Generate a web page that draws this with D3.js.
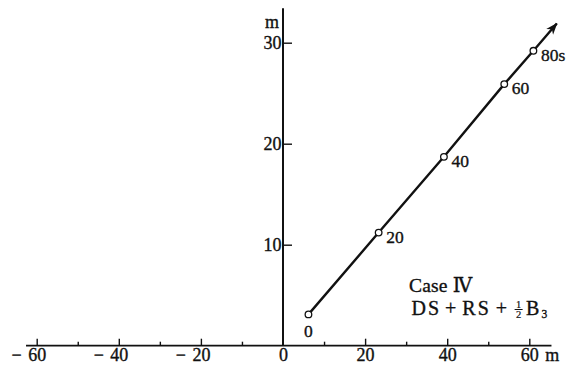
<!DOCTYPE html>
<html>
<head>
<meta charset="utf-8">
<script src="https://cdn.jsdelivr.net/npm/d3@7"></script>
<style>
  html, body { margin: 0; padding: 0; background: #fff; }
  svg { display: block; }
  svg text { font-family: "Liberation Serif", "DejaVu Serif", serif; fill: #111; stroke: #111; stroke-width: 0.35px; }
  .tick line { stroke: #111; stroke-width: 1.4; }
  .tick text { font-size: 18px; }
</style>
</head>
<body>
<svg id="chart" width="580" height="365"></svg>
<script>
// Axis ticks (metres)
const xMajorTicks = [-60, -40, -20, 0, 20, 40, 60];
const xMinorTicks = [-50, -30, -10, 10, 30, 50];
const yTicks = [10, 20, 30];

// Trajectory sampled every 20 s
const timeLabels = ["0", "20", "40", "60", "80s"];
const pathX = [6.2, 23.3, 39.2, 53.9, 61.0];
const pathY = [3.1, 11.2, 18.7, 25.9, 29.2];
// Direction of travel after the last sample
const headX = [66.7];
const headY = [31.9];

const svg = d3.select("#chart");
const ink = "#111";
const serif = "'Liberation Serif', 'DejaVu Serif', serif";

const x = d3.scaleLinear().domain([-60, 60]).range([36.7, 529.3]);
const y = d3.scaleLinear().domain([0, 30]).range([345.7, 42.7]);

// Horizontal axis line
svg.append("line")
  .attr("x1", x(-62.6)).attr("x2", x(65.4))
  .attr("y1", y(0)).attr("y2", y(0))
  .attr("stroke", ink).attr("stroke-width", 1.7);

// Vertical axis line
svg.append("line")
  .attr("x1", x(0)).attr("x2", x(0))
  .attr("y1", y(0)).attr("y2", y(33.4))
  .attr("stroke", ink).attr("stroke-width", 2);

// Minor x ticks
const gxMinor = svg.append("g")
  .attr("transform", `translate(0,${y(0)})`)
  .call(d3.axisBottom(x).tickValues(xMinorTicks).tickSize(-4).tickSizeOuter(0).tickFormat(""));
gxMinor.select(".domain").remove();

// Major x ticks with labels below the line
const gx = svg.append("g")
  .attr("transform", `translate(0,${y(0)})`)
  .call(d3.axisBottom(x).tickValues(xMajorTicks).tickSize(-7).tickSizeOuter(0)
    .tickPadding(3).tickFormat(d => String(Math.abs(d))));
gx.attr("font-family", serif);
gx.select(".domain").remove();
gx.selectAll(".tick").filter(d => d === 0).select("line").remove();
gx.selectAll(".tick").filter(d => d < 0)
  .append("text")
  .attr("x", -15.5).attr("y", 3).attr("dy", "0.71em")
  .attr("text-anchor", "end")
  .attr("font-size", 18)
  .text("\u2212");
gx.selectAll(".tick").filter(d => d === 60)
  .append("text")
  .attr("x", 15.5).attr("y", 3).attr("dy", "0.71em")
  .attr("text-anchor", "start")
  .attr("font-size", 18)
  .text("m");

// y ticks pointing right, labels on the left
const gy = svg.append("g")
  .attr("transform", `translate(${x(0)},0)`)
  .call(d3.axisLeft(y).tickValues(yTicks).tickSize(-9).tickSizeOuter(0).tickPadding(1.5));
gy.attr("font-family", serif);
gy.select(".domain").remove();

svg.append("text")
  .attr("x", x(0) - 11).attr("y", 27.5)
  .attr("text-anchor", "middle")
  .attr("font-size", 18)
  .text("m");

// Arrowhead
svg.append("defs").append("marker")
  .attr("id", "head")
  .attr("markerUnits", "userSpaceOnUse")
  .attr("viewBox", "0 -5 12 10")
  .attr("refX", 11).attr("refY", 0)
  .attr("markerWidth", 12).attr("markerHeight", 10)
  .attr("orient", "auto")
  .append("path")
  .attr("d", "M0,-4.5 L12,0 L0,4.5 L3.5,0 Z")
  .attr("fill", ink);

const pts = pathX.map((d, i) => [d, pathY[i]]);
const line = d3.line().x(d => x(d[0])).y(d => y(d[1]));

svg.append("path")
  .attr("d", line(pts.concat([[headX[0], headY[0]]])))
  .attr("fill", "none")
  .attr("stroke", ink)
  .attr("stroke-width", 2.4)
  .attr("marker-end", "url(#head)");

svg.selectAll("circle.sample")
  .data(pts)
  .join("circle")
  .attr("class", "sample")
  .attr("cx", d => x(d[0])).attr("cy", d => y(d[1]))
  .attr("r", 3.3)
  .attr("fill", "#fff")
  .attr("stroke", ink)
  .attr("stroke-width", 1.3);

// Time labels: the start below its marker, the rest to the lower right
svg.selectAll("text.time")
  .data(pts)
  .join("text")
  .attr("class", "time")
  .attr("x", (d, i) => i === 0 ? x(d[0]) : x(d[0]) + 7.5)
  .attr("y", (d, i) => i === 0 ? y(d[1]) + 22.5 : y(d[1]) + 10)
  .attr("text-anchor", (d, i) => i === 0 ? "middle" : "start")
  .attr("font-size", 17.5)
  .text((d, i) => timeLabels[i]);

// Case caption
const cap = svg.append("g");
cap.append("text")
  .attr("x", 409).attr("y", 291.5)
  .attr("font-size", 19.5)
  .attr("letter-spacing", 0.2)
  .text("Case \u2163");

let cx = 411.5;
const base = 315;
function piece(str, opts = {}) {
  const t = cap.append("text")
    .attr("x", cx).attr("y", base + (opts.dy || 0))
    .attr("font-size", opts.size || 20)
    .attr("letter-spacing", opts.ls == null ? 2 : opts.ls)
    .text(str);
  cx += t.node().getComputedTextLength() + (opts.gap || 0);
  return t;
}
piece("DS", { gap: 4 });
piece("+", { gap: 4 });
piece("RS", { gap: 5 });
piece("+", { gap: 5 });
// stacked one-half
const fx = cx + 4.5;
cap.append("text").attr("x", fx).attr("y", base - 7.5).attr("font-size", 10.5)
  .attr("text-anchor", "middle").style("stroke-width", "0.2px").text("1");
cap.append("text").attr("x", fx).attr("y", base + 2.5).attr("font-size", 10.5)
  .attr("text-anchor", "middle").style("stroke-width", "0.2px").text("2");
cap.append("line")
  .attr("x1", fx - 4).attr("x2", fx + 4)
  .attr("y1", base - 5.5).attr("y2", base - 5.5)
  .attr("stroke", ink).attr("stroke-width", 1);
cx = fx + 7.5;
piece("B", { gap: 0 });
piece("3", { size: 11.5, dy: 2.5, ls: 0 });
</script>
</body>
</html>
